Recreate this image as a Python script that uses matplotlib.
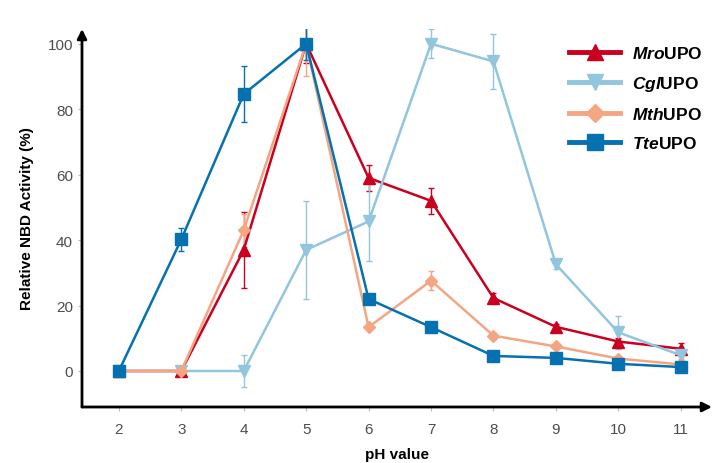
import matplotlib.pyplot as plt

plt.rcParams['font.family'] = ['Liberation Sans', 'DejaVu Sans']
plt.rcParams['mathtext.fontset'] = 'custom'
plt.rcParams['mathtext.it'] = 'Liberation Sans:italic:bold'
plt.rcParams['mathtext.rm'] = 'Liberation Sans:bold'

ph = [2, 3, 4, 5, 6, 7, 8, 9, 10, 11]

mro = [0, 0, 37, 100, 59, 52, 22.3, 13.5, 9, 6.8]
mro_err = [0, 0, 11.5, 6, 4, 4, 1.5, 1, 1, 1.8]
cgl = [0, 0, 0, 37, 45.7, 100, 94.6, 32.6, 11.8, 4.8]
cgl_err = [0, 0, 5, 15, 12, 4.5, 8.5, 1.5, 5, 1]
mth = [0, 0, 43, 100, 13.4, 27.6, 10.8, 7.5, 3.8, 2]
mth_err = [0, 0, 5, 10, 0.5, 3, 0.5, 0.5, 0.5, 0.5]
tte = [0, 40.2, 84.6, 100, 22, 13.4, 4.6, 4, 2.2, 1.2]
tte_err = [0, 3.5, 8.5, 5, 1, 0.5, 0.5, 0.5, 0.5, 0.5]

series = [
    (r"$\mathit{Mro}$UPO", mro, mro_err, "#ca0020", "^"),
    (r"$\mathit{Cgl}$UPO", cgl, cgl_err, "#92c5de", "v"),
    (r"$\mathit{Mth}$UPO", mth, mth_err, "#f4a582", "D"),
    (r"$\mathit{Tte}$UPO", tte, tte_err, "#0571b0", "s"),
]

fig = plt.figure(figsize=(7.17, 4.64), dpi=100)
ax = fig.add_axes([82 / 717, 1 - 408 / 464, 630 / 717, 378 / 464])

handles = []
for label, vals, err, col, mk in series:
    ms = 6 if mk == "D" else 8
    ax.errorbar(ph, vals, yerr=err, color=col, marker=mk, markersize=ms,
                linewidth=1.8, elinewidth=1, capsize=2.5, capthick=1)
    # legend handle without error bars
    h, = ax.plot([], [], color=col, marker=mk, markersize=ms + 3, linewidth=3.5, label=label)
    handles.append(h)

ax.set_xlim(1.41, 11.5)
ax.set_ylim(-11, 104.5)
ax.set_xticks(ph)
ax.set_yticks([0, 20, 40, 60, 80, 100])
for s in ax.spines.values():
    s.set_visible(False)
ax.tick_params(axis='both', colors='#bbbbbb', labelcolor='#4d4d4d', labelsize=11,
               length=3, width=0.8)
ax.tick_params(axis='x', pad=8)

# arrows for axes
ax.annotate('', xy=(1.0, 0), xycoords='axes fraction', xytext=(0, 0),
            arrowprops=dict(arrowstyle='-|>', lw=2, color='black', mutation_scale=14,
                            shrinkA=0, shrinkB=0))
ax.annotate('', xy=(0, 1.0), xycoords='axes fraction', xytext=(0, 0),
            arrowprops=dict(arrowstyle='-|>', lw=2, color='black', mutation_scale=14,
                            shrinkA=0, shrinkB=0))

ax.set_xlabel("pH value", fontsize=11, fontweight='bold', labelpad=8)
ax.set_ylabel("Relative NBD Activity (%)", fontsize=11, fontweight='bold', labelpad=10)

ax.legend(handles=handles, loc='upper right', bbox_to_anchor=(1.01, 1.0), frameon=False,
          handlelength=2.9, handletextpad=0.7, labelspacing=0.75,
          prop={'weight': 'bold', 'size': 12.5})

fig.savefig("out.png", dpi=100)
